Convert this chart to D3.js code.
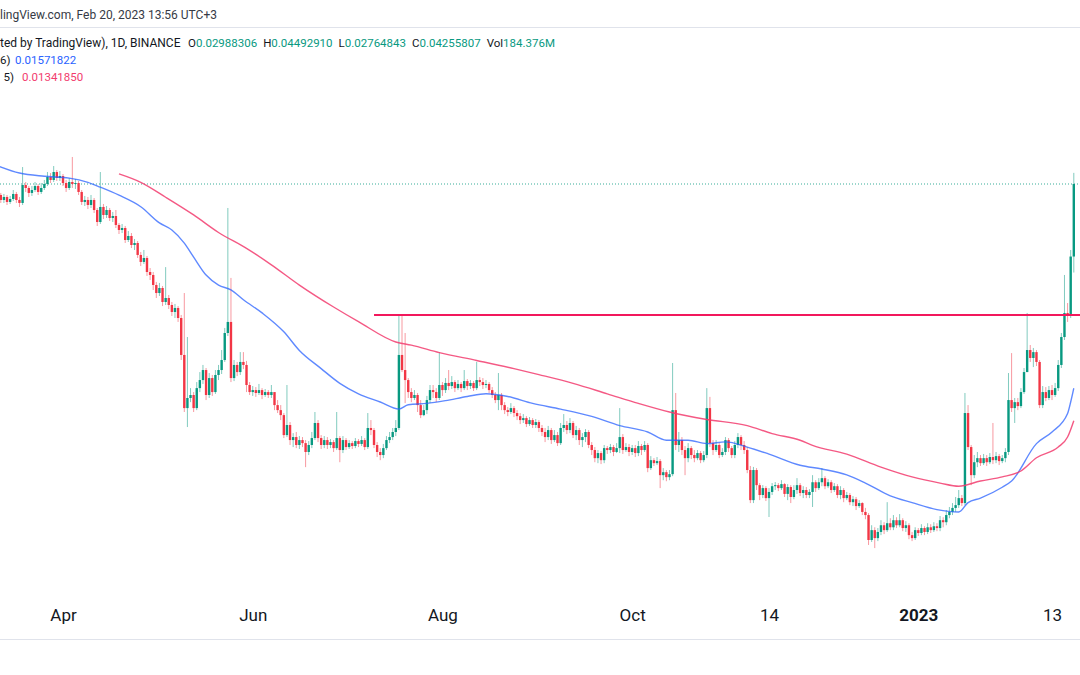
<!DOCTYPE html>
<html>
<head>
<meta charset="utf-8">
<script src="https://cdn.jsdelivr.net/npm/d3@7"></script>
<style>
  html, body { margin: 0; padding: 0; background: #fff; }
  svg { display: block; font-family: Roboto, "Liberation Sans", sans-serif; }
</style>
</head>
<body>
<svg id="chart" width="1080" height="675"></svg>
<script>
// daily candles, prices in units of 0.00001 USDT, first candle = 2022-03-11
const startDay = new Date(Date.UTC(2022, 2, 11));
const firstOpen = 4094;

const closes = [
  4034,3937,3995,3899,3956,4054,3937,3880,4235,4174,4074,4133,4214,4094,4174,4256,4404,4340,4512,4383,
  4425,4277,4174,4298,4256,4277,4094,3899,3937,3842,3937,3749,3536,3805,3659,3749,3606,3641,3485,3401,
  3434,3239,3303,3161,3192,3011,2910,2967,2771,2731,2601,2501,2563,2394,2441,2359,2280,2325,2214,1849,
  1427,1499,1521,1427,1573,1636,1718,1521,1652,1543,1677,1718,1804,2058,2172,1652,1761,1701,1787,1761,
  1597,1543,1558,1536,1558,1521,1543,1521,1543,1448,1413,1379,1251,1314,1221,1239,1192,1221,1203,1152,
  1192,1233,1327,1233,1192,1221,1192,1209,1174,1233,1163,1221,1180,1203,1186,1215,1198,1221,1180,1295,
  1282,1192,1152,1135,1174,1221,1239,1270,1295,1849,1718,1636,1543,1499,1521,1448,1379,1413,1484,1558,
  1543,1499,1597,1558,1613,1589,1620,1573,1605,1573,1628,1589,1613,1573,1636,1620,1597,1605,1558,1521,
  1484,1521,1448,1413,1400,1427,1393,1372,1346,1359,1320,1346,1314,1333,1295,1270,1239,1282,1221,1251,
  1203,1295,1314,1282,1327,1251,1282,1221,1239,1270,1192,1163,1118,1146,1107,1174,1163,1180,1152,1174,
  1239,1163,1180,1152,1174,1146,1186,1163,1192,1065,1107,1091,1102,1029,1044,1019,1034,1413,1192,1221,
  1163,1118,1174,1135,1118,1146,1107,1135,1427,1203,1163,1192,1135,1152,1221,1174,1135,1192,1239,1192,
  1163,1055,911,1055,980,934,966,920,948,975,980,966,985,939,971,925,957,980,943,957,
  934,948,994,966,994,1014,975,994,957,975,934,957,920,934,902,915,885,898,860,847,
  750,787,757,780,806,787,814,798,826,806,826,795,806,768,757,787,776,795,780,798,
  787,802,795,826,818,847,860,877,889,920,898,1393,1180,1029,1096,1118,1091,1118,1096,1124,
  1107,1129,1102,1118,1152,1484,1427,1469,1441,1543,1701,1894,1822,1875,1787,1448,1543,1499,1558,1521,
  1573,1761,2018,2269,2236,2988,4256
];

const highs = [
  4133,4074,4054,4034,4015,4133,4094,3995,4623,4298,4214,4214,4298,4256,4277,4340,4512,4490,4646,4556,
  4534,4469,4340,4383,4855,4361,4319,4133,4015,3995,4034,3975,3786,4512,3861,3823,3786,3713,3749,3519,
  3502,3468,3384,3351,3255,3223,3055,3085,2996,2825,2771,2640,2627,2588,2838,2477,2394,2371,2347,2247,
  2501,2018,1573,1543,1620,1701,1761,1735,1693,1677,1718,1761,1894,2109,3786,2692,1804,1787,1875,1875,
  1796,1620,1589,1581,1605,1573,1566,1558,1597,1536,1484,1448,1393,1597,1333,1263,1270,1245,1239,1221,
  1215,1270,1400,1346,1251,1245,1239,1227,1221,1400,1245,1245,1233,1221,1215,1233,1227,1245,1233,1393,
  1346,1295,1209,1174,1198,1245,1270,1295,1346,2247,2247,2058,1652,1573,1558,1536,1484,1448,1514,1597,
  1597,1573,1875,1620,1652,1718,1668,1636,1636,1620,1718,1644,1636,1628,1787,1660,1652,1636,1620,1581,
  1543,1693,1536,1469,1434,1462,1441,1413,1393,1386,1372,1366,1359,1353,1346,1314,1295,1308,1295,1282,
  1270,1327,1386,1340,1359,1340,1308,1295,1263,1288,1282,1209,1180,1163,1157,1192,1186,1198,1192,1203,
  1427,1257,1203,1198,1192,1192,1215,1198,1215,1203,1129,1118,1124,1113,1065,1055,1055,1778,1536,1270,
  1239,1186,1203,1186,1163,1163,1157,1157,1573,1507,1221,1221,1203,1174,1239,1233,1186,1215,1263,1251,
  1215,1180,1076,1071,1065,990,980,975,966,990,995,990,1004,990,985,980,980,1014,990,975,
  971,961,1029,1004,1014,1065,1024,1009,1004,990,985,975,966,948,943,929,925,911,902,877,
  855,806,798,795,826,818,902,834,847,838,851,834,822,814,780,798,795,810,802,814,
  810,818,814,843,838,868,881,898,925,957,934,1536,1448,1192,1135,1152,1135,1141,1135,1146,
  1327,1152,1141,1135,1174,1693,1866,1499,1499,1573,1735,2269,1941,1913,1894,1804,1589,1581,1589,1597,
  1613,1804,2058,2731,2382,3085,4493
];

const lows = [
  3956,3880,3880,3842,3861,3918,3880,3805,3842,4094,3995,4015,4094,4034,4054,4133,4214,4277,4298,4319,
  4319,4214,4094,4133,4174,4154,4034,3842,3823,3767,3786,3695,3468,3502,3589,3606,3554,3536,3434,3335,
  3351,3192,3208,3115,3085,2967,2853,2881,2718,2665,2538,2441,2465,2347,2359,2314,2236,2214,2172,1804,
  1400,1301,1469,1400,1413,1543,1605,1484,1499,1514,1529,1636,1685,1787,2028,1620,1628,1668,1677,1726,
  1543,1521,1514,1507,1521,1491,1507,1499,1499,1413,1393,1346,1233,1239,1192,1180,1174,1169,1180,1070,
  1135,1174,1221,1209,1169,1174,1169,1174,1152,1163,1096,1146,1163,1169,1169,1174,1180,1186,1163,1169,
  1251,1174,1124,1107,1118,1163,1203,1221,1245,1282,1701,1462,1499,1469,1484,1400,1359,1372,1386,1462,
  1499,1469,1484,1514,1536,1558,1566,1543,1558,1543,1558,1558,1566,1551,1558,1589,1566,1573,1536,1499,
  1462,1413,1413,1386,1372,1386,1366,1346,1320,1327,1301,1308,1295,1295,1270,1245,1209,1221,1198,1209,
  1186,1192,1270,1257,1263,1233,1221,1192,1180,1209,1174,1135,1096,1091,1086,1091,1141,1146,1129,1146,
  1146,1141,1152,1129,1135,1124,1129,1135,1152,1044,1055,1076,1081,966,1004,999,1004,1024,1163,1152,
  1135,1029,1096,1113,1096,1107,1091,1096,1118,1180,1135,1152,1118,1124,1135,1152,1118,1118,1174,1163,
  1141,1039,898,898,957,911,920,907,839,934,957,952,957,925,911,898,915,939,929,920,
  920,920,881,948,957,975,961,966,943,948,920,915,902,911,889,885,868,877,847,830,
  732,743,721,746,768,772,780,787,787,795,798,783,780,753,746,750,765,768,768,772,
  776,780,783,783,798,806,834,847,860,877,885,889,1163,980,1014,1070,1076,1081,1076,1086,
  1086,1091,1081,1091,1096,1135,1400,1327,1413,1427,1529,1701,1787,1743,1752,1427,1427,1476,1484,1484,
  1507,1551,1735,1989,2172,2214,2764
];

// moving averages (day index from startDay, value)
const fastDays = [0,7,15,23,29,33,39,46,52,56,60,63,67,71,75,79,85,92,97,104,110,116,123,129,132,138,144,151,157,164,
  172,181,191,200,209,215,222,228,234,241,248,258,265,273,279,287,294,302,309,312,316,323,326,334,339,344,345,346];
const fastVals = [4650,4490,4420,4380,4290,4190,4030,3810,3520,3400,3190,2980,2730,2600,2540,2420,2270,2070,1890,1730,
  1610,1530,1470,1420,1450,1460,1480,1510,1530,1510,1460,1420,1370,1310,1270,1220,1220,1200,1210,1180,
  1140,1080,1060,1030,990,930,900,870,860,900,920,970,1000,1200,1270,1390,1470,1572];
const slowDays = [39,46,54,63,71,80,88,97,108,116,128,133,142,154,166,174,185,196,206,216,
  228,241,249,258,262,273,284,294,303,309,316,323,329,334,341,344,346];
const slowVals = [4470,4290,3990,3660,3360,3110,2870,2600,2336,2175,1970,1940,1870,1800,1730,1680,1610,1530,1460,1400,
  1350,1310,1260,1220,1190,1140,1070,1020,990,975,1000,1020,1050,1120,1180,1239,1342];

const resistanceLevel = 2247;
const resistanceFrom = 121;

const tickDates = ["2022-04-01", "2022-06-01", "2022-08-01", "2022-10-01", "2022-11-14", "2023-01-01", "2023-02-13"];
const tickLabels = ["Apr", "Jun", "Aug", "Oct", "14", "2023", "13"];

const upColor = "#089981";
const downColor = "#f23645";
const textColor = "#131722";

const svg = d3.select("#chart");
const width = 1080;

const dayDate = i => d3.utcDay.offset(startDay, i);
const candles = closes.map((c, i) => ({
  date: dayDate(i),
  o: i ? closes[i - 1] : firstOpen,
  h: highs[i],
  l: lows[i],
  c: c
}));

const x = d3.scaleUtc()
  .domain([startDay, dayDate(closes.length - 1)])
  .range([-2.3, 1073.8]);
const y = d3.scaleLog()
  .domain([750, 4256])
  .range([540, 184]);

// header / footer rules
svg.append("line").attr("x1", 0).attr("x2", width).attr("y1", 27.5).attr("y2", 27.5)
  .attr("stroke", "#e0e3eb");
svg.append("line").attr("x1", 0).attr("x2", width).attr("y1", 639.5).attr("y2", 639.5)
  .attr("stroke", "#e0e3eb");

// last price line
svg.append("line")
  .attr("x1", 0).attr("x2", width)
  .attr("y1", y(closes[closes.length - 1])).attr("y2", y(closes[closes.length - 1]))
  .attr("stroke", upColor).attr("stroke-width", 1)
  .attr("stroke-dasharray", "1,2").attr("opacity", 0.8);

// candles
const cg = svg.append("g");
cg.selectAll("line.wick")
  .data(candles)
  .enter()
  .append("line")
  .attr("class", "wick")
  .attr("x1", d => x(d.date)).attr("x2", d => x(d.date))
  .attr("y1", d => y(d.h)).attr("y2", d => y(d.l))
  .attr("stroke", d => d.c >= d.o ? upColor : downColor)
  .attr("stroke-width", 1)
  .attr("opacity", 0.5);

cg.selectAll("rect.body")
  .data(candles)
  .enter()
  .append("rect")
  .attr("class", "body")
  .attr("x", d => x(d.date) - 1.2)
  .attr("width", 2.4)
  .attr("y", d => y(Math.max(d.o, d.c)))
  .attr("height", d => Math.max(1, Math.abs(y(d.o) - y(d.c))))
  .attr("fill", d => d.c >= d.o ? upColor : downColor);

// moving averages
const maLine = d3.line()
  .x(d => x(dayDate(d[0])))
  .y(d => y(d[1]))
  .curve(d3.curveMonotoneX);

svg.append("path")
  .attr("d", maLine(fastDays.map((d, i) => [d, fastVals[i]])))
  .attr("fill", "none").attr("stroke", "#2962ff").attr("stroke-width", 1.4).attr("opacity", 0.75);
svg.append("path")
  .attr("d", maLine(slowDays.map((d, i) => [d, slowVals[i]])))
  .attr("fill", "none").attr("stroke", "#f23c6e").attr("stroke-width", 1.4).attr("opacity", 0.85);

// resistance line
svg.append("line")
  .attr("x1", x(dayDate(resistanceFrom))).attr("x2", width)
  .attr("y1", y(resistanceLevel)).attr("y2", y(resistanceLevel))
  .attr("stroke", "#f2185c").attr("stroke-width", 2);

// time axis
const axis = d3.axisBottom(x)
  .tickValues(tickDates.map(s => new Date(s + "T00:00:00Z")))
  .tickFormat((d, i) => tickLabels[i])
  .tickSize(0)
  .tickPadding(0);
const ag = svg.append("g").attr("transform", "translate(0,609)").call(axis);
ag.select(".domain").remove();
ag.selectAll("text")
  .attr("fill", textColor)
  .style("font-size", "17px")
  .style("font-family", "Roboto, sans-serif")
  .style("font-weight", (d, i) => tickLabels[i] === "2023" ? "bold" : "normal");

// legend texts (as visible in the cropped original)
const legendFont = "11.5px";
svg.append("text")
  .attr("x", 0).attr("y", 19)
  .style("font-size", "12px")
  .attr("fill", "#363a45")
  .text("lingView.com, Feb 20, 2023 13:56 UTC+3");

svg.append("text")
  .attr("x", 0).attr("y", 47)
  .style("font-size", "12px")
  .attr("fill", textColor)
  .text("ted by TradingView), 1D, BINANCE");

const ohlc = [["O", "0.02988306"], ["H", "0.04492910"], ["L", "0.02764843"], ["C", "0.04255807"], ["Vol", "184.376M"]];
const ohlcText = svg.append("text")
  .attr("x", 188).attr("y", 47)
  .style("font-size", legendFont);
ohlc.forEach((p, i) => {
  ohlcText.append("tspan").attr("dx", i ? 6 : 0).attr("fill", textColor).text(p[0]);
  ohlcText.append("tspan").attr("fill", upColor).text(p[1]);
});

const maLegend = [["6)", "0.01571822", "#2962ff", 0, 15, 64], ["5)", "0.01341850", "#f23c6e", 3.5, 22, 81]];
maLegend.forEach(m => {
  svg.append("text").attr("x", m[3]).attr("y", m[5])
    .style("font-size", legendFont).attr("fill", textColor).text(m[0]);
  svg.append("text").attr("x", m[4]).attr("y", m[5])
    .style("font-size", legendFont).attr("fill", m[2]).text(m[1]);
});
</script>
</body>
</html>
